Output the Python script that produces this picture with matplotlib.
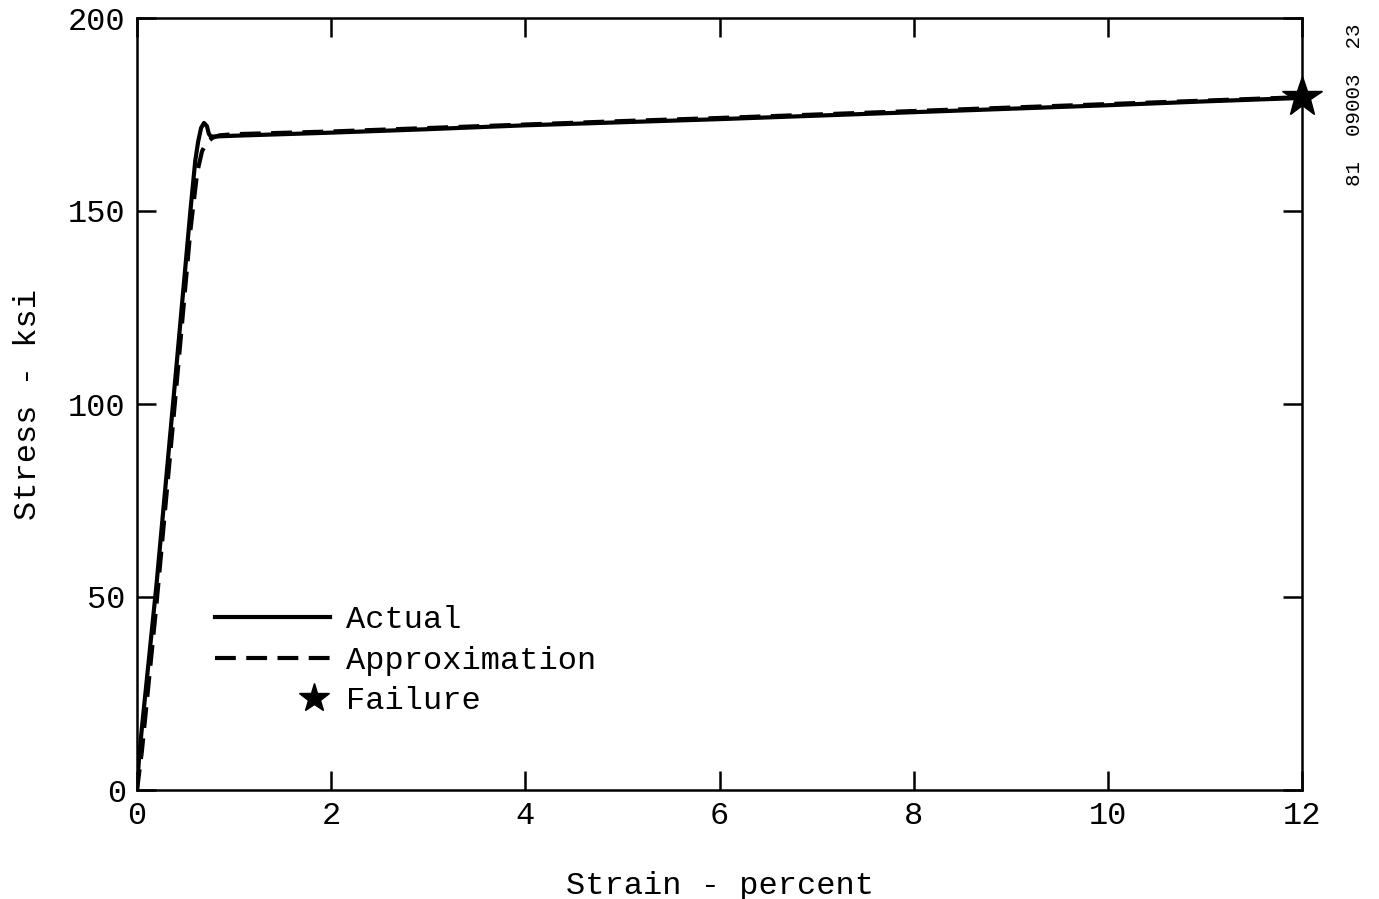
import matplotlib
matplotlib.use("Agg")
import matplotlib.pyplot as plt
from matplotlib.lines import Line2D
from matplotlib.legend_handler import HandlerLine2D

# Data (strain in percent, stress in ksi)
actual_strain = [0.0, 0.02, 0.05, 0.2, 0.4, 0.55, 0.6, 0.63, 0.66, 0.69, 0.72, 0.74, 0.76, 0.8, 1.0, 2.0, 3.0, 4.0, 5.0, 6.0, 7.0, 8.0, 9.0, 10.0, 11.0, 12.0]
actual_stress = [0.0, 8.0, 16.0, 53.0, 108.0, 150.0, 163.0, 168.0, 171.5, 172.8, 172.0, 170.0, 169.3, 169.3, 169.5, 170.3, 171.2, 172.2, 173.0, 173.8, 174.7, 175.6, 176.5, 177.4, 178.4, 179.3]
approx_strain = [0.0, 0.05, 0.2, 0.4, 0.55, 0.62, 0.67, 0.72, 0.78, 0.85, 1.0, 2.0, 3.0, 4.0, 5.0, 6.0, 7.0, 8.0, 9.0, 10.0, 11.0, 12.0]
approx_stress = [0.0, 10.0, 48.0, 103.0, 145.0, 160.0, 165.5, 167.8, 169.0, 169.6, 169.9, 170.6, 171.5, 172.4, 173.3, 174.1, 175.0, 175.9, 176.8, 177.7, 178.6, 179.5]
failure_strain = [12.0]
failure_stress = [179.5]

x_ticks = [0, 2, 4, 6, 8, 10, 12]
y_ticks = [0, 50, 100, 150, 200]

FONT = ["Liberation Mono", "DejaVu Sans Mono"]
plt.rcParams["font.family"] = FONT
FS = 23

fig = plt.figure(figsize=(13.79, 8.99), dpi=100)
ax = fig.add_axes([137/1379, 1 - 790/899, (1302-137)/1379, (790-18)/899])

ax.plot(actual_strain, actual_stress, color="black", lw=3.0, solid_capstyle="round")
ax.plot(approx_strain, approx_stress, color="black", lw=3.0, ls=(0, (5, 2.5)))
ax.plot(failure_strain, failure_stress, marker="*", ms=30, color="black", ls="none", clip_on=False, zorder=5)

ax.set_xlim(0, 12)
ax.set_ylim(0, 200)
ax.set_xticks(x_ticks)
ax.set_yticks(y_ticks)
ax.tick_params(direction="in", length=14, width=1.8, labelsize=FS, pad=8,
               top=True, right=True)
for s in ax.spines.values():
    s.set_linewidth(1.8)

ax.set_xlabel("Strain - percent", fontsize=FS, labelpad=29)
ax.set_ylabel("Stress - ksi", fontsize=FS, labelpad=18)

class StarHandler(HandlerLine2D):
    def get_xdata(self, legend, xdescent, ydescent, width, height, fontsize):
        x = [-xdescent + width - 0.5 * fontsize]
        return x, x

h_actual = Line2D([], [], color="black", lw=3.0)
h_approx = Line2D([], [], color="black", lw=3.0, ls=(0, (5, 2.5)))
h_fail = Line2D([], [], color="black", marker="*", ms=22, ls="none")
leg = ax.legend([h_actual, h_approx, h_fail], ["Actual", "Approximation", "Failure"],
                loc="upper left", bbox_to_anchor=(0.067, 0.239), frameon=False,
                fontsize=FS, handlelength=3.6, handletextpad=0.5, labelspacing=0.32,
                borderaxespad=0, borderpad=0,
                handler_map={h_fail: StarHandler(numpoints=1)})

fig.text(1355/1379, 1 - 105/899, "81  09003  23", rotation=90, fontsize=15,
         ha="center", va="center")

fig.savefig("out.png", dpi=100)
